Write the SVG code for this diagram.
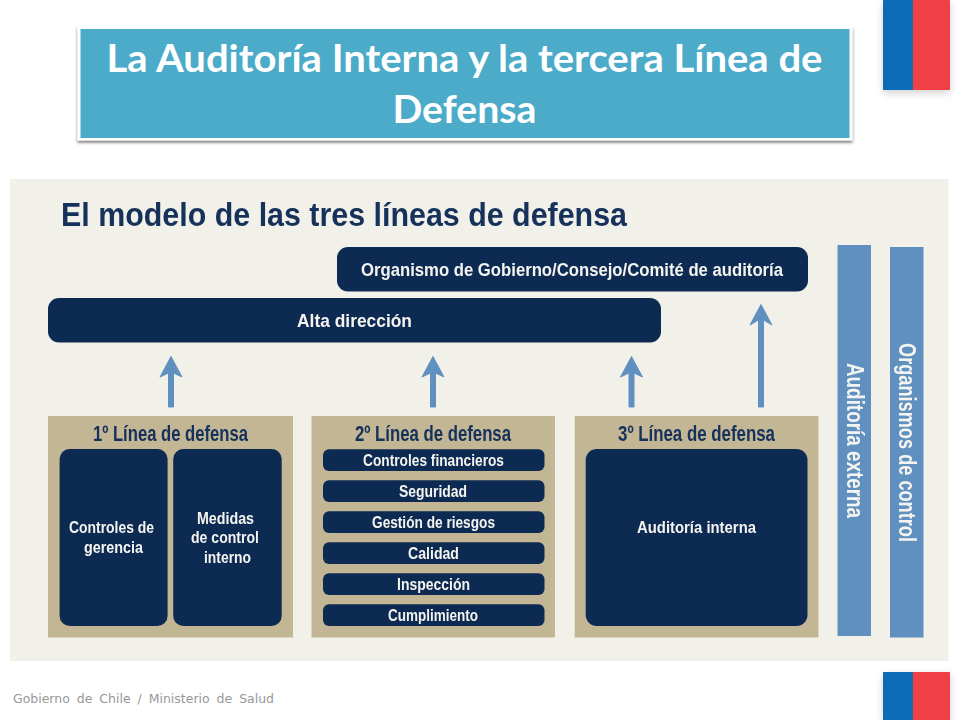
<svg xmlns="http://www.w3.org/2000/svg" width="960" height="720" viewBox="0 0 960 720">
<style>
.dark{fill:#0f2b52}
.tan{fill:#c2b695}
.bar{fill:#6090bf}
text{font-family:"Liberation Sans",Arial,sans-serif;font-weight:700}
.w{fill:#f4f4f0;text-anchor:middle}
.n{fill:#14305a;text-anchor:middle}
.h{font-size:22px}
.r{font-size:17px}
.conn path{fill:#6090bf;stroke:#6090bf;stroke-width:1;stroke-linejoin:round}
</style>
<defs>
<filter id="shadow" x="-5%" y="-10%" width="110%" height="125%"><feDropShadow dx="0" dy="2" stdDeviation="1.6" flood-color="#000" flood-opacity="0.55"/></filter>
<filter id="fshadow" x="-30%" y="-10%" width="160%" height="125%"><feDropShadow dx="0" dy="3" stdDeviation="4" flood-color="#000" flood-opacity="0.18"/></filter>
<filter id="soft" x="-2%" y="-2%" width="104%" height="104%"><feGaussianBlur stdDeviation="0.45"/></filter>
</defs>
<rect width="960" height="720" fill="#fff"/>
<g id="flag-top" filter="url(#fshadow)"><rect x="883" y="0" width="30" height="90" fill="#0f6cb8"/><rect x="913" y="0" width="37" height="90" fill="#f04144"/></g>
<g id="flag-bottom" filter="url(#fshadow)"><rect x="883" y="672" width="30" height="48" fill="#0f6cb8"/><rect x="913" y="672" width="37" height="48" fill="#f04144"/></g>
<g id="title">
<rect x="77.500" y="26.500" width="775" height="114" fill="#fff" filter="url(#shadow)"/>
<rect x="80.500" y="29" width="769" height="109" fill="#4babc8"/>
<text x="464.500" y="72" text-anchor="middle" fill="#fff" style="font-family:Lato,sans-serif" font-size="38" textLength="716" lengthAdjust="spacingAndGlyphs">La Auditoría Interna y la tercera Línea de</text>
<text x="464.500" y="123" text-anchor="middle" fill="#fff" style="font-family:Lato,sans-serif" font-size="38" textLength="144" lengthAdjust="spacingAndGlyphs">Defensa</text>
</g>
<rect id="panel" x="10" y="179" width="938.600" height="482" fill="#f1f1ea"/>
<g filter="url(#soft)">
<text id="heading" x="344" y="226" class="n" font-size="34" textLength="566" lengthAdjust="spacingAndGlyphs">El modelo de las tres líneas de defensa</text>
<g id="connectors" class="conn">
<path d="M168.500 407V373L160 377L171 356.500L182 377L173.500 373V407Z"/>
<path d="M430.500 407V373L422 377L433 356.500L444 377L435.500 373V407Z"/>
<path d="M629 407V373L620.500 377L631.500 356.500L642.500 377L634 373V407Z"/>
<path d="M758.500 407V320L750 325L761 304.500L772 325L763.500 320V407Z"/>
</g>
<g id="node-organismo"><rect class="dark" x="337" y="247" width="471" height="44.500" rx="11"/><text class="w" x="572" y="275.500" font-size="19" textLength="422" lengthAdjust="spacingAndGlyphs">Organismo de Gobierno/Consejo/Comité de auditoría</text></g>
<g id="node-alta"><rect class="dark" x="48" y="298" width="613" height="44.500" rx="11"/><text class="w" x="354.500" y="326.500" font-size="19" textLength="115" lengthAdjust="spacingAndGlyphs">Alta dirección</text></g>
<g id="node-linea1"><rect class="tan" x="48" y="416" width="245" height="221.500"/><text class="n h" x="170.500" y="441" textLength="155" lengthAdjust="spacingAndGlyphs">1º Línea de defensa</text>
<rect class="dark" x="59.600" y="449" width="108" height="177" rx="10"/><rect class="dark" x="173.200" y="449" width="108.500" height="177" rx="10"/>
<text class="w r" x="111.500" y="533" textLength="85" lengthAdjust="spacingAndGlyphs">Controles de</text><text class="w r" x="113.500" y="552.500" textLength="59" lengthAdjust="spacingAndGlyphs">gerencia</text>
<text class="w r" x="225.500" y="524" textLength="57" lengthAdjust="spacingAndGlyphs">Medidas</text><text class="w r" x="225" y="543" textLength="68" lengthAdjust="spacingAndGlyphs">de control</text><text class="w r" x="227.500" y="563" textLength="47" lengthAdjust="spacingAndGlyphs">interno</text></g>
<g id="node-linea2"><rect class="tan" x="311.500" y="416" width="243.500" height="221.500"/><text class="n h" x="433" y="441" textLength="156" lengthAdjust="spacingAndGlyphs">2º Línea de defensa</text>
<rect class="dark" x="323" y="449.300" width="221.500" height="21.700" rx="6"/><text class="w r" x="433.500" y="466" textLength="141" lengthAdjust="spacingAndGlyphs">Controles financieros</text>
<rect class="dark" x="323" y="480.300" width="221.500" height="21.700" rx="6"/><text class="w r" x="433" y="497" textLength="68" lengthAdjust="spacingAndGlyphs">Seguridad</text>
<rect class="dark" x="323" y="511.300" width="221.500" height="21.700" rx="6"/><text class="w r" x="433.500" y="528" textLength="123" lengthAdjust="spacingAndGlyphs">Gestión de riesgos</text>
<rect class="dark" x="323" y="542.300" width="221.500" height="21.700" rx="6"/><text class="w r" x="433.500" y="559" textLength="51" lengthAdjust="spacingAndGlyphs">Calidad</text>
<rect class="dark" x="323" y="573.300" width="221.500" height="21.700" rx="6"/><text class="w r" x="433.500" y="590" textLength="73" lengthAdjust="spacingAndGlyphs">Inspección</text>
<rect class="dark" x="323" y="604.300" width="221.500" height="21.700" rx="6"/><text class="w r" x="433" y="621" textLength="90" lengthAdjust="spacingAndGlyphs">Cumplimiento</text></g>
<g id="node-linea3"><rect class="tan" x="574.700" y="416" width="243.800" height="221.500"/><text class="n h" x="696.500" y="441" textLength="157" lengthAdjust="spacingAndGlyphs">3º Línea de defensa</text>
<rect class="dark" x="585.700" y="449" width="221.800" height="177" rx="11"/><text class="w r" x="696.500" y="533" textLength="119" lengthAdjust="spacingAndGlyphs">Auditoría interna</text></g>
<g id="node-externa"><rect class="bar" x="837.500" y="245" width="33.500" height="391"/><text class="w" transform="translate(847 440.500) rotate(90)" font-size="23" textLength="155" lengthAdjust="spacingAndGlyphs">Auditoría externa</text></g>
<g id="node-control"><rect class="bar" x="890" y="247" width="33.500" height="390.500"/><text class="w" transform="translate(898.500 442.500) rotate(90)" font-size="23" textLength="199" lengthAdjust="spacingAndGlyphs">Organismos de control</text></g>
</g>
<text id="footer" x="13" y="703" fill="#979797" word-spacing="3" style="font-family:'DejaVu Sans',sans-serif;font-weight:400" font-size="12.500" textLength="261" lengthAdjust="spacingAndGlyphs">Gobierno de Chile / Ministerio de Salud</text>
</svg>
